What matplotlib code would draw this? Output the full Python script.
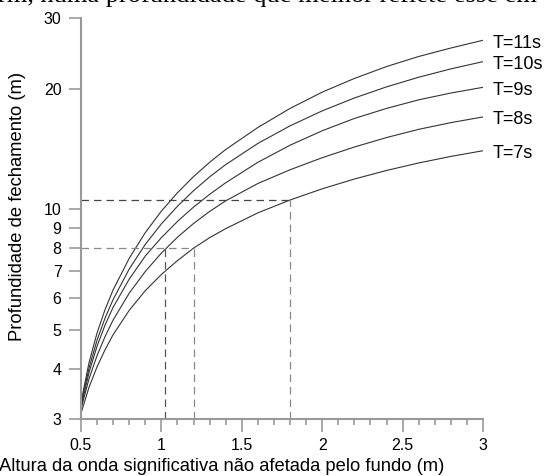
import matplotlib
matplotlib.use('Agg')
import matplotlib.pyplot as plt
from matplotlib.ticker import FixedLocator, NullLocator

plt.rcParams['font.family'] = ['Liberation Sans', 'DejaVu Sans']

# wave height (m)
H = [0.5, 0.55, 0.6, 0.65, 0.7, 0.8, 0.9, 1.0, 1.1, 1.2, 1.3, 1.4,
     1.6, 1.8, 2.0, 2.2, 2.4, 2.6, 2.8, 3.0]

# closure depth (m) for each period
depth = {
    'T=11s': [3.3, 4.15, 4.92, 5.63, 6.3, 7.55, 8.75, 9.9, 11.0, 12.07, 13.1, 14.1,
              16.0, 17.85, 19.6, 21.2, 22.7, 24.05, 25.25, 26.4],
    'T=10s': [3.26, 4.02, 4.72, 5.36, 5.96, 7.1, 8.18, 9.2, 10.18, 11.13, 12.05, 12.93,
              14.6, 16.15, 17.6, 18.95, 20.2, 21.35, 22.4, 23.35],
    'T=9s': [3.22, 3.92, 4.56, 5.15, 5.7, 6.7, 7.65, 8.5, 9.33, 10.13, 10.9, 11.65,
             13.1, 14.45, 15.7, 16.85, 17.85, 18.75, 19.5, 20.15],
    'T=8s': [3.18, 3.78, 4.32, 4.82, 5.3, 6.18, 7.0, 7.78, 8.52, 9.22, 9.88, 10.5,
             11.6, 12.55, 13.45, 14.3, 15.1, 15.83, 16.45, 17.0],
    'T=7s': [3.1, 3.6, 4.05, 4.47, 4.87, 5.6, 6.27, 6.88, 7.45, 8.0, 8.5, 8.95,
             9.8, 10.55, 11.25, 11.9, 12.5, 13.05, 13.55, 14.0],
}

# dashed reading guides
guide_x = [1.02, 1.2, 1.8]
guide_y = [8, 8, 10.55]
guide_col = ['#555555', '#888888', '#888888']

xticks = [0.5, 1, 1.5, 2, 2.5, 3]
xlabels = ['0.5', '1', '1.5', '2', '2.5', '3']
yticks = [3, 4, 5, 6, 7, 8, 9, 10, 20, 30]

fig = plt.figure(figsize=(5.46, 4.76), dpi=100)
ax = fig.add_axes([81/546, 1-419/476, 402/546, 401/476])

for name, d in depth.items():
    ax.plot(H, d, color='#333333', lw=0.8)
    ax.annotate(name, (H[-1], d[-1]), xytext=(7, -2), textcoords='offset points',
                fontsize=13, va='center', ha='left', annotation_clip=False)

dash = (0, (6, 4))
ax.plot([0.5, guide_x[2]], [guide_y[2], guide_y[2]], color='#444444', lw=0.9, ls=dash)
ax.plot([0.5, guide_x[1]], [guide_y[1], guide_y[1]], color='#888888', lw=0.9, ls=dash)
for gx, gy, c in zip(guide_x, guide_y, guide_col):
    ax.plot([gx, gx], [3, gy], color=c, lw=0.9, ls=dash)

ax.set_yscale('log')
ax.set_xlim(0.5, 3)
ax.set_ylim(3, 30)
ax.yaxis.set_major_locator(FixedLocator(yticks))
ax.yaxis.set_minor_locator(NullLocator())
ax.set_yticklabels([str(t) for t in yticks])
ax.xaxis.set_major_locator(FixedLocator(xticks))
ax.xaxis.set_minor_locator(FixedLocator([0.5 + 0.1 * i for i in range(26)]))
ax.set_xticklabels(xlabels)

for s in ['top', 'right']:
    ax.spines[s].set_visible(False)
for s in ['left', 'bottom']:
    ax.spines[s].set_color('#999999')
    ax.spines[s].set_linewidth(1.5)
ax.tick_params(which='major', direction='out', length=9, width=1.2, color='#999999',
               labelsize=11.5, pad=5)
ax.tick_params(which='minor', direction='out', length=4.5, width=1.2, color='#999999')

ax.set_xlabel('Altura da onda significativa não afetada pelo fundo (m)', fontsize=13.2)
ax.xaxis.set_label_coords(0.351, -0.097)
ax.set_ylabel('Profundidade de fechamento (m)', fontsize=13.2)
ax.yaxis.set_label_coords(-0.137, 0.529)

fig.text(-0.003, 1 - 2/476, 'rm, numa profundidade que melhor reflete esse em',
         fontsize=19, family='Liberation Serif', va='baseline', ha='left')

fig.savefig('out.png', dpi=100)
